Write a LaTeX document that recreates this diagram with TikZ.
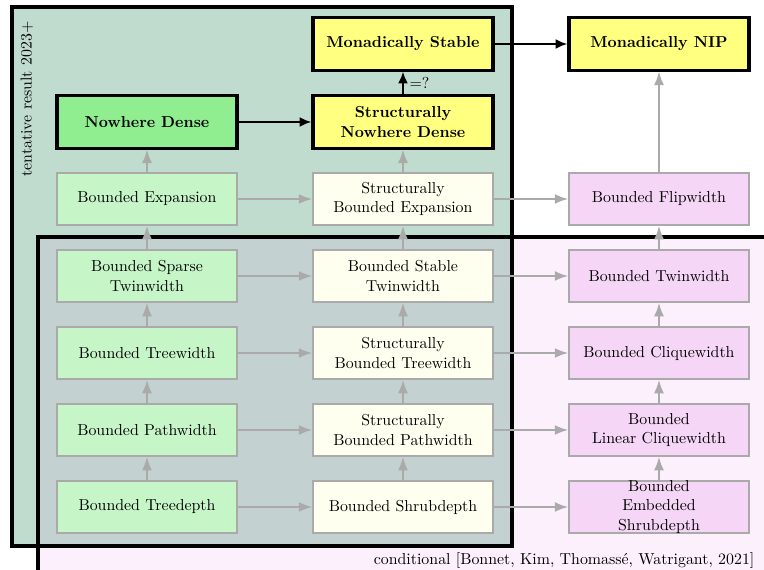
\documentclass[tikz,border=0pt]{standalone}
\usepackage{amssymb}
\usepackage{amsmath}
\usepackage{tikz}
\usetikzlibrary{arrows.meta}

\definecolor{tentgreen}{RGB}{192,220,207}
\definecolor{condpink}{RGB}{230,130,230}
\definecolor{ndgreen}{RGB}{144,238,144}
\definecolor{monyellow}{RGB}{255,255,128}
\definecolor{sparsegreen}{RGB}{198,246,200}
\definecolor{structcream}{RGB}{255,255,240}
\definecolor{densepink}{RGB}{246,214,246}
\definecolor{edgegrey}{RGB}{170,170,170}

\begin{document}
\begin{tikzpicture}
            [x=0.63pt, y=-0.63pt,
             cls/.style={draw=edgegrey, line width=0.95pt, minimum width=113.4pt, minimum height=32.8pt, align=center, inner ysep=1pt},
             big/.style={draw=black, line width=1.9pt, minimum width=113.4pt, minimum height=32.8pt, align=center, font=\bfseries},
             imp/.style={draw=edgegrey, line width=1.25pt, -{Latex[length=8.5pt,width=6.3pt]}},
             bigimp/.style={draw=black, line width=1.6pt, -{Latex[length=7.5pt,width=6.3pt]}}]
            \useasboundingbox (0, 0) rectangle (764, 570);
            % the two regions
            \fill [tentgreen] (12, 7) rectangle (512, 546);
            \fill [condpink, fill opacity=0.12] (38, 237) rectangle (780, 580);
            \draw [line width=1.9pt] (12, 7) rectangle (512, 546);
            \draw [line width=1.9pt] (38, 580) -- (38, 237) -- (780, 237);
            \node [rotate=90, anchor=north east] (tent) at (15, 16) {tentative result 2023+};
            \node [anchor=base east] (cond) at (760, 564) {conditional [Bonnet, Kim, Thomassé, Watrigant, 2021]};
            % left column
            \node [big, fill=ndgreen] (nd) at (147, 122) {Nowhere Dense};
            \node [cls, fill=sparsegreen] (be) at (147, 199) {Bounded Expansion};
            \node [cls, fill=sparsegreen] (bstw) at (147, 276) {Bounded Sparse\\Twinwidth};
            \node [cls, fill=sparsegreen] (tw) at (147, 353) {Bounded Treewidth};
            \node [cls, fill=sparsegreen] (pw) at (147, 430) {Bounded Pathwidth};
            \node [cls, fill=sparsegreen] (td) at (147, 507) {Bounded Treedepth};
            % middle column
            \node [big, fill=monyellow] (ms) at (403, 44) {Monadically Stable};
            \node [big, fill=monyellow] (snd) at (403, 122) {Structurally\\Nowhere Dense};
            \node [cls, fill=structcream] (sbe) at (403, 199) {Structurally\\Bounded Expansion};
            \node [cls, fill=structcream] (bsttw) at (403, 276) {Bounded Stable\\Twinwidth};
            \node [cls, fill=structcream] (stw) at (403, 353) {Structurally\\Bounded Treewidth};
            \node [cls, fill=structcream] (spw) at (403, 430) {Structurally\\Bounded Pathwidth};
            \node [cls, fill=structcream] (sd) at (403, 507) {Bounded Shrubdepth};
            % right column
            \node [big, fill=monyellow] (mnip) at (659, 44) {Monadically NIP};
            \node [cls, fill=densepink] (fw) at (659, 199) {Bounded Flipwidth};
            \node [cls, fill=densepink] (twin) at (659, 276) {Bounded Twinwidth};
            \node [cls, fill=densepink] (cw) at (659, 353) {Bounded Cliquewidth};
            \node [cls, fill=densepink] (lcw) at (659, 430) {Bounded\\Linear Cliquewidth};
            \node [cls, fill=densepink, inner ysep=0pt] (esd) at (659, 507) {Bounded\\Embedded\\Shrubdepth};
            % implications
            \draw [bigimp] (nd) -- (snd);
            \draw [bigimp] (snd) -- (ms) node [midway, right] {$=?$};
            \draw [bigimp] (ms) -- (mnip);
            \draw [imp] (be) -- (nd);
            \draw [imp] (bstw) -- (be);
            \draw [imp] (tw) -- (bstw);
            \draw [imp] (pw) -- (tw);
            \draw [imp] (td) -- (pw);
            \draw [imp] (sbe) -- (snd);
            \draw [imp] (bsttw) -- (sbe);
            \draw [imp] (stw) -- (bsttw);
            \draw [imp] (spw) -- (stw);
            \draw [imp] (sd) -- (spw);
            \draw [imp] (fw) -- (mnip);
            \draw [imp] (twin) -- (fw);
            \draw [imp] (cw) -- (twin);
            \draw [imp] (lcw) -- (cw);
            \draw [imp] (esd) -- (lcw);
            \draw [imp] (be) -- (sbe);
            \draw [imp] (bstw) -- (bsttw);
            \draw [imp] (tw) -- (stw);
            \draw [imp] (pw) -- (spw);
            \draw [imp] (td) -- (sd);
            \draw [imp] (sbe) -- (fw);
            \draw [imp] (bsttw) -- (twin);
            \draw [imp] (stw) -- (cw);
            \draw [imp] (spw) -- (lcw);
            \draw [imp] (sd) -- (esd);
        \end{tikzpicture}
\end{document}
